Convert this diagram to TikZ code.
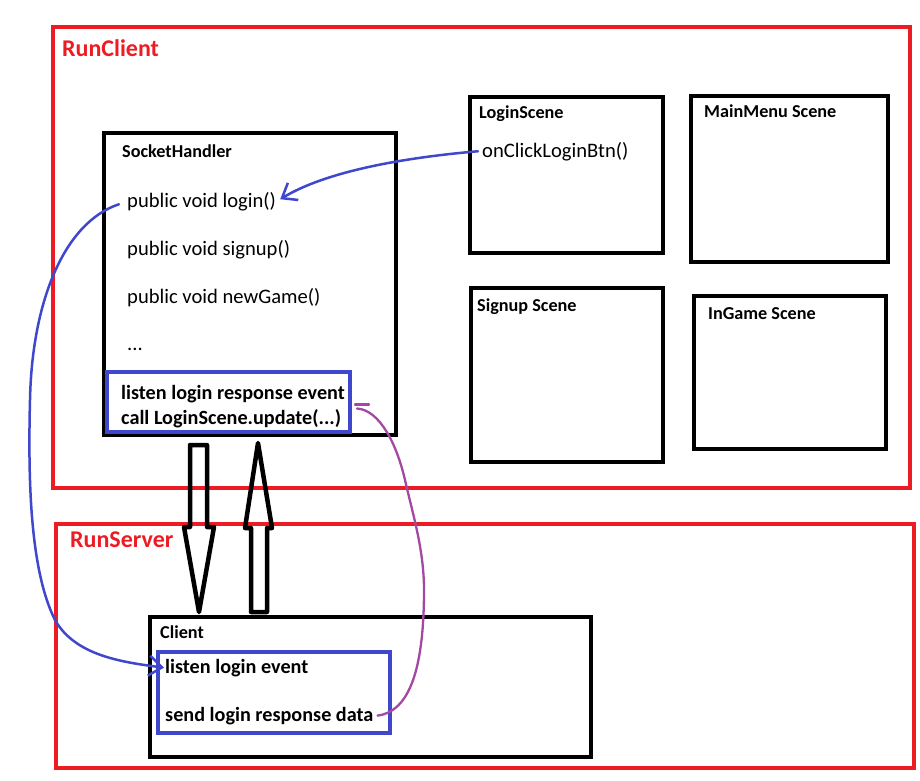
\documentclass[tikz,border=0pt]{standalone}
\usepackage{fontspec}
\setmainfont{Carlito}
\usetikzlibrary{fit,arrows.meta,calc}
\definecolor{pred}{HTML}{ED1C24}
\definecolor{pblue}{HTML}{3F48CC}
\definecolor{ppurple}{HTML}{A349A4}
\tikzset{
  redbox/.style={draw=pred, line width=4pt, inner sep=0pt},
  blackbox/.style={draw=black, line width=4.5pt, inner sep=0pt},
  bluebox/.style={draw=pblue, line width=4pt, inner sep=0pt},
  title/.style={anchor=base west, inner sep=0pt, font=\fontsize{18.2}{20}\selectfont\bfseries},
  big/.style={anchor=base west, inner sep=0pt, font=\fontsize{24}{28}\selectfont\bfseries, text=pred},
  code/.style={anchor=base west, inner sep=0pt, font=\fontsize{20.6}{24}\selectfont},
  bcode/.style={anchor=base west, inner sep=0pt, font=\fontsize{20.2}{24}\selectfont\bfseries},
  bluelink/.style={draw=pblue, line width=2.5pt, line cap=round, line join=round},
  purplelink/.style={draw=ppurple, line width=2.3pt, line cap=round, line join=round},
  hollow/.style={draw=black, line width=4.5pt, line join=round},
  barb/.style={-{Straight Barb[length=13pt,width=20pt,line width=2.5pt]}}
}
\begin{document}
\begin{tikzpicture}[x=1pt,y=-1pt]
\useasboundingbox[fill=white] (0,0) rectangle (920,780);

% outer red frames
\node[redbox, fit={(53,27)(910,488)}] (runclient) {};
\node[big] (runclientlbl) at (62,56) {RunClient};
\node[redbox, fit={(56,524)(914,768)}] (runserver) {};
\node[big] (runserverlbl) at (70,547) {RunServer};

% SocketHandler
\node[blackbox, fit={(104,133)(396,435)}] (sh) {};
\node[title] (shlbl) at (122,157) {SocketHandler};
\node[code] (login) at (127,207) {public void login()};
\node[code] (signup) at (127,255) {public void signup()};
\node[code] (newgame) at (127,303) {public void newGame()};
\node[code] (dots) at (127,350) {...};
\node[bluebox, fit={(107,372)(350,432)}] (resp) {};
\node[bcode] (resp1) at (121,399) {listen login response event};
\node[bcode] (resp2) at (121,424) {call LoginScene.update(...)};

% scenes
\node[blackbox, fit={(470,97)(663,253)}] (loginscene) {};
\node[title] (loginscenelbl) at (479,118) {LoginScene};
\node[code] (onclick) at (482,157) {onClickLoginBtn()};
\node[blackbox, fit={(691,96)(888,262)}] (mainmenu) {};
\node[title] (mainmenulbl) at (704,117) {MainMenu Scene};
\node[blackbox, fit={(471,288)(663,462)}] (signupscene) {};
\node[title] (signupscenelbl) at (477,311) {Signup Scene};
\node[blackbox, fit={(694,296)(886,449)}] (ingame) {};
\node[title] (ingamelbl) at (708,319) {InGame Scene};

% Client
\node[blackbox, fit={(150,617)(591,757)}] (client) {};
\node[title] (clientlbl) at (160,638) {Client};
\node[bluebox, fit={(158,652)(390,733)}] (req) {};
\node[bcode] (listen) at (165,673) {listen login event};
\node[bcode] (send) at (165,721) {send login response data};

% hollow arrows between SocketHandler and Client
\draw[hollow] (190,445) -- (207,445) -- (207,527) -- (214,527) -- (199,612)
  -- (184,527) -- (190,527) -- cycle;
\draw[hollow] (251,612) -- (267,612) -- (267,528) -- (272,528) -- (258,443)
  -- (245,528) -- (251,528) -- cycle;

% blue connectors
\draw[bluelink, barb] ($(onclick.west)+(-4,0)$) .. controls (400,158) and (325,172) ..
  ($(login.east)+(4,-2)$);
\draw[bluelink, barb] ($(login.west)+(-8,3)$) .. controls (65,222) and (32,300) ..
  (30,400) .. controls (28,480) and (30,570) .. (55,620)
  .. controls (75,655) and (120,662) .. ($(listen.west)+(-1,0)$);

% purple connector
\draw[purplelink] ($(resp.east)+(3,2.5)$) -- ++(14,0);
\draw[purplelink] ($(resp.east)+(5,6.5)$) .. controls (380,410) and (397,445) ..
  (405,480) .. controls (413,515) and (424,550) .. (424,590)
  .. controls (424,680) and (405,712) .. ($(send.east)+(4,0)$);
\end{tikzpicture}
\end{document}
